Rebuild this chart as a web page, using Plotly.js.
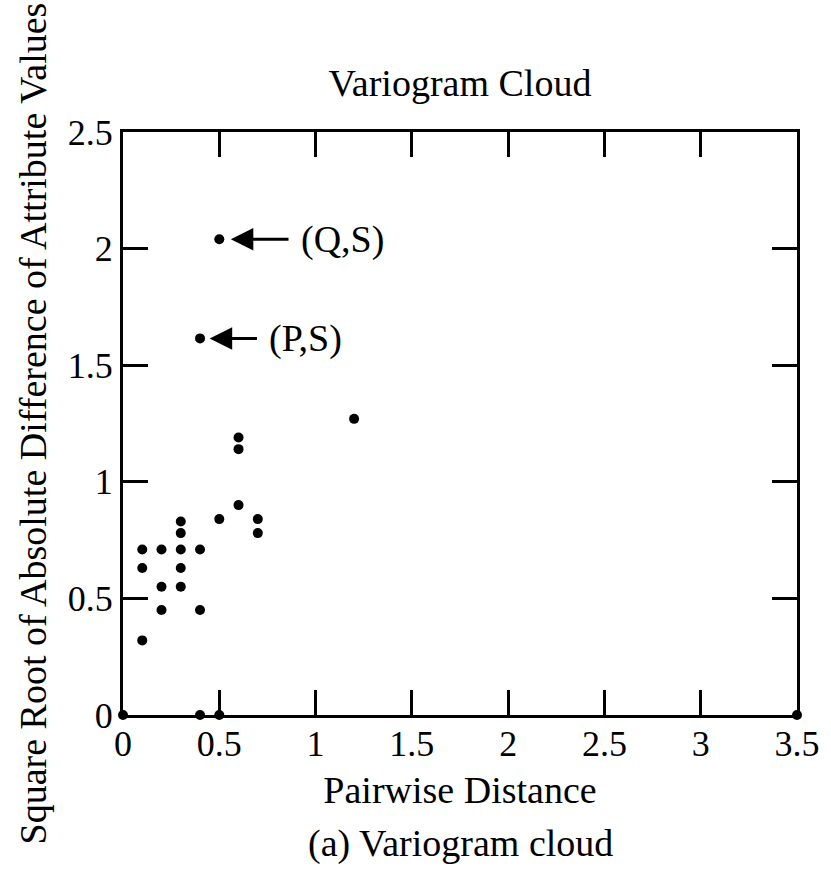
<!DOCTYPE html>
<html>
<head>
<meta charset="utf-8">
<script src="https://cdn.plot.ly/plotly-3.0.1.min.js"></script>
<style>html,body{margin:0;padding:0;background:#fff;}#chart{width:831px;height:872px;}</style>
</head>
<body>
<div id="chart"></div>
<script>
// Pairwise distance of each point pair
const pairDistance = [0, 0.4, 0.5, 3.5, 0.1, 0.2, 0.4, 0.2, 0.3, 0.1, 0.3, 0.1, 0.2, 0.3, 0.4, 0.3, 0.7, 0.3, 0.5, 0.7, 0.6, 0.6, 0.6, 1.2, 0.4, 0.5];
// Square root of absolute difference of attribute values
const sqrtAbsDiff  = [0, 0, 0, 0, 0.32, 0.45, 0.45, 0.55, 0.55, 0.63, 0.63, 0.71, 0.71, 0.71, 0.71, 0.78, 0.78, 0.83, 0.84, 0.84, 0.90, 1.14, 1.19, 1.27, 1.615, 2.04];

// Labelled pairs (arrow tip x, y, text x)
const pairLabels = ['(Q,S)', '(P,S)'];
const labelTipX  = [0.56, 0.45];
const labelY     = [2.04, 1.615];
const labelTextX = [1.14, 0.95];

const xTicks = [0, 0.5, 1, 1.5, 2, 2.5, 3, 3.5];
const yTicks = [0, 0.5, 1, 1.5, 2, 2.5];

const FONT = 'Liberation Serif, Times New Roman, serif';
const BIG = 38;

const trace = {
  type: 'scatter', mode: 'markers',
  x: pairDistance, y: sqrtAbsDiff,
  marker: {symbol: 'circle', size: 10, color: '#000'},
  cliponaxis: false, showlegend: false, hoverinfo: 'skip'
};

const annotations = pairLabels.map((t, i) => ({
  text: t, x: labelTipX[i], y: labelY[i], xref: 'x', yref: 'y',
  ax: labelTextX[i], ay: labelY[i], axref: 'x', ayref: 'y',
  showarrow: true, arrowhead: 2, arrowsize: 1.5, arrowwidth: 3, arrowcolor: '#000',
  borderpad: 12, font: {family: FONT, size: BIG, color: '#000'}
}));
annotations.push({
  text: '(a) Variogram cloud', xref: 'paper', yref: 'paper',
  x: 0.5, y: -0.22, xanchor: 'center', yanchor: 'middle', showarrow: false,
  font: {family: FONT, size: BIG, color: '#000'}
});

const axisCommon = {
  showgrid: false, zeroline: false, showline: true, linecolor: '#000', linewidth: 3,
  mirror: 'ticks', ticks: 'inside', ticklen: 25, tickwidth: 3, tickcolor: '#000',
  tickfont: {family: FONT, size: 36, color: '#000'}
};

const layout = {
  width: 831, height: 872,
  margin: {l: 123, r: 34, t: 132, b: 157},
  paper_bgcolor: '#fff', plot_bgcolor: '#fff',
  font: {family: FONT, color: '#000'},
  title: {text: 'Variogram Cloud', font: {family: FONT, size: BIG, color: '#000'},
          xref: 'paper', x: 0.5, xanchor: 'center', yref: 'container', y: 0.905, yanchor: 'middle'},
  xaxis: Object.assign({}, axisCommon, {
    range: [0, 3.5], tickvals: xTicks, ticktext: xTicks.map(String),
    ticklabelstandoff: -5,
    title: {text: 'Pairwise Distance', font: {family: FONT, size: BIG, color: '#000'}, standoff: 14}
  }),
  yaxis: Object.assign({}, axisCommon, {
    range: [0, 2.5], tickvals: yTicks, ticktext: yTicks.map(String),
    title: {text: 'Square Root of Absolute Difference of Attribute Values', font: {family: FONT, size: BIG, color: '#000'}, standoff: 10}
  }),
  annotations: annotations
};

Plotly.newPlot('chart', [trace], layout, {displayModeBar: false, staticPlot: true});
</script>
</body>
</html>
